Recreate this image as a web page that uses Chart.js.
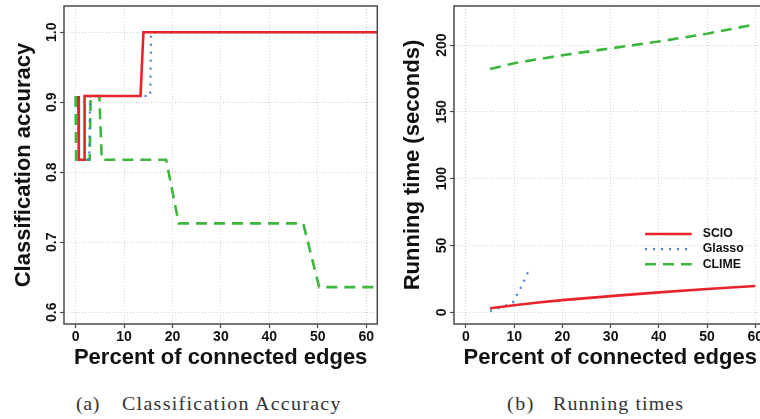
<!DOCTYPE html>
<html>
<head>
<meta charset="utf-8">
<script src="https://cdn.jsdelivr.net/npm/chart.js@4/dist/chart.umd.min.js"></script>
<style>
html,body{margin:0;padding:0;background:#fff;overflow:hidden;width:760px;height:419px;}
#wrap{position:relative;width:760px;height:419px;overflow:hidden;}
canvas{position:absolute;top:0;}
#c1{left:0;}
#c2{left:380px;}
.cap{position:absolute;white-space:nowrap;font-family:"Liberation Serif","Times New Roman",serif;font-size:18.5px;line-height:18.5px;color:#333;transform-origin:0 0;}
</style>
</head>
<body>
<div id="wrap">
<canvas id="c1" width="380" height="380"></canvas>
<canvas id="c2" width="400" height="380"></canvas>
<span class="cap" id="capA1">(a)</span>
<span class="cap" id="capA2">Classification Accuracy</span>
<span class="cap" id="capB1">(b)</span>
<span class="cap" id="capB2">Running times</span>
</div>
<script>
// ---------- data ----------
const seriesNames = ['SCIO', 'Glasso', 'CLIME'];

// (a) classification accuracy vs percent of connected edges
const accScioX   = [0.55, 0.65, 1.75, 1.85, 13.4, 14.0, 65];
const accScioY   = [0.909, 0.818, 0.818, 0.909, 0.909, 1.0, 1.0];
const accGlassoX = [0.6, 0.7, 2.8, 3.0, 15.4, 15.6, 65];
const accGlassoY = [0.909, 0.818, 0.818, 0.909, 0.909, 1.0, 1.0];
const accClimeX  = [0.0, 0.1, 2.9, 3.1, 4.9, 5.4, 18.7, 21.3, 47.0, 50.3, 65];
const accClimeY  = [0.909, 0.818, 0.818, 0.909, 0.909, 0.818, 0.818, 0.727, 0.727, 0.636, 0.636];

// (b) running times (seconds)
const timeScioX   = [5, 10, 15, 20, 30, 40, 50, 60];
const timeScioY   = [3.0, 5.3, 7.4, 9.1, 12.1, 14.9, 17.4, 19.7];
const timeGlassoX = [5, 7, 9.7, 11.2, 12.6, 13.4];
const timeGlassoY = [1.0, 3.3, 7.2, 17.2, 28.0, 34.0];
const timeClimeX  = [5, 10, 20, 30, 40, 50, 60];
const timeClimeY  = [182.0, 186.4, 192.4, 197.5, 202.6, 208.5, 215.4];

// ticks
const xTicks = [0, 10, 20, 30, 40, 50, 60];
const xTickLabels = ['0', '10', '20', '30', '40', '50', '60'];
const accTicks = [0.6, 0.7, 0.8, 0.9, 1.0];
const accTickLabels = ['0.6', '0.7', '0.8', '0.9', '1.0'];
const timeTicks = [0, 50, 100, 150, 200];
const timeTickLabels = ['0', '50', '100', '150', '200'];

// ---------- styling ----------
const SANS = '"Liberation Sans", Arial, Helvetica, sans-serif';
const RED = '#e8232b', BLUE = '#4a7fd6', GREEN = '#3db63d';
const styles = [
  {color: RED, width: 2.6, dash: []},
  {color: BLUE, width: 2.2, dash: [2, 6]},
  {color: GREEN, width: 2.6, dash: [11, 7]}
];

function pts(xs, ys) { return xs.map((x, i) => ({x: x, y: ys[i]})); }
function ds(i, xs, ys) {
  return {
    label: seriesNames[i], data: pts(xs, ys),
    borderColor: styles[i].color, borderWidth: styles[i].width, borderDash: styles[i].dash,
    pointRadius: 0, fill: false, tension: 0, clip: 0, borderCapStyle: 'butt'
  };
}

const framePlugin = {
  id: 'frameAndLabels',
  afterDraw(chart, args, opts) {
    const ctx = chart.ctx, a = chart.chartArea;
    ctx.save();
    ctx.strokeStyle = '#4a4a4a';
    ctx.lineWidth = 1.5;
    ctx.strokeRect(a.left, a.top, a.right - a.left, a.bottom - a.top);
    // rotated y tick labels
    const s = chart.scales.y;
    ctx.font = 'bold 14px ' + SANS;
    ctx.fillStyle = '#111';
    ctx.textAlign = 'center';
    ctx.textBaseline = 'middle';
    opts.values.forEach((v, i) => {
      const y = s.getPixelForValue(v);
      ctx.save();
      ctx.translate(a.left - 12.3, y);
      ctx.rotate(-Math.PI / 2);
      ctx.fillText(opts.labels[i], 0, 0);
      ctx.restore();
    });
    // legend
    if (opts.legend) {
      const lg = opts.legend;
      chart.data.datasets.forEach((d, i) => {
        const y = lg.y0 + i * lg.dy;
        ctx.save();
        ctx.strokeStyle = d.borderColor;
        ctx.lineWidth = d.borderWidth;
        ctx.setLineDash(d.borderDash || []);
        ctx.beginPath();
        ctx.moveTo(lg.x0, y);
        ctx.lineTo(lg.x1, y);
        ctx.stroke();
        ctx.restore();
        ctx.font = 'bold 12.3px ' + SANS;
        ctx.textAlign = 'left';
        ctx.fillStyle = '#111';
        ctx.fillText(d.label, lg.tx, y);
      });
    }
    ctx.restore();
  }
};

function makeChart(id, datasets, cfg) {
  return new Chart(document.getElementById(id), {
    type: 'line',
    data: {datasets: datasets},
    options: {
      responsive: false, animation: false, devicePixelRatio: 1,
      events: [],
      layout: {padding: {left: 0, right: cfg.rightPad, top: 6, bottom: 0}},
      plugins: {
        legend: {display: false}, tooltip: {enabled: false},
        frameAndLabels: {values: cfg.yTicks, labels: cfg.yTickLabels, legend: cfg.legend}
      },
      scales: {
        x: {
          type: 'linear', min: cfg.xMin, max: cfg.xMax,
          afterBuildTicks: s => { s.ticks = xTicks.map(v => ({value: v})); },
          afterFit: s => { s.height = 56; },
          ticks: {
            color: '#111', font: {family: SANS, size: 14, weight: 'bold'}, padding: 1,
            maxRotation: 0, minRotation: 0, autoSkip: false,
            callback: (v, i) => xTickLabels[i]
          },
          grid: {color: '#cfcfcf', lineWidth: 1, tickColor: '#4a4a4a', tickLength: 4, tickWidth: 1.2, tickBorderDash: []},
          border: {display: false, dash: [1, 2]},
          title: {display: true, text: 'Percent of connected edges', color: '#111',
                  font: {family: SANS, size: 22, weight: 'bold'}, padding: {top: 0, bottom: 8.4}}
        },
        y: {
          type: 'linear', min: cfg.yMin, max: cfg.yMax,
          afterBuildTicks: s => { s.ticks = cfg.yTicks.map(v => ({value: v})); },
          afterFit: s => { s.width = cfg.yWidth; },
          ticks: {display: false},
          grid: {color: '#cfcfcf', lineWidth: 1, tickColor: '#4a4a4a', tickLength: 4, tickWidth: 1.2, tickBorderDash: []},
          border: {display: false, dash: [1, 2]},
          title: {display: true, text: cfg.yTitle, color: '#111',
                  font: {family: SANS, size: 22, weight: 'bold'}, padding: {top: cfg.yTitlePad, bottom: 0}}
        }
      }
    },
    plugins: [framePlugin]
  });
}

makeChart('c1', [
  ds(0, accScioX, accScioY),
  ds(1, accGlassoX, accGlassoY),
  ds(2, accClimeX, accClimeY)
], {
  xMin: -2.4, xMax: 62.3, yMin: 0.5833, yMax: 1.0376,
  yTicks: accTicks, yTickLabels: accTickLabels,
  yTitle: 'Classification accuracy', yWidth: 64, yTitlePad: 10.8, rightPad: 2.7
});

makeChart('c2', [
  ds(0, timeScioX, timeScioY),
  ds(1, timeGlassoX, timeGlassoY),
  ds(2, timeClimeX, timeClimeY)
], {
  xMin: -2.48, xMax: 62.3, yMin: -8.75, yMax: 229.2,
  yTicks: timeTicks, yTickLabels: timeTickLabels,
  yTitle: 'Running time (seconds)', yWidth: 74, yTitlePad: 20, rightPad: 13.6,
  legend: {x0: 265, x1: 311.7, tx: 322.7, y0: 234, dy: 15.1}
});

// captions: mild horizontal stretch plus letter spacing to fit the measured extent
function placeCap(id, left, right, baseline) {
  const el = document.getElementById(id);
  const sx = 1.08;
  el.style.left = left + 'px';
  el.style.top = (baseline - 15.5) + 'px';
  const n = el.textContent.length;
  const w0 = el.getBoundingClientRect().width;
  const target = (right - left) / sx;
  const ls = n > 1 ? (target - w0) / (n - 1) : 0;
  el.style.letterSpacing = ls + 'px';
  const w1 = el.getBoundingClientRect().width - ls;
  el.style.transform = 'scaleX(' + ((right - left) / w1) + ')';
}
placeCap('capA1', 76, 99.5, 410);
placeCap('capA2', 121.5, 340, 410);
placeCap('capB1', 507, 533.5, 410);
placeCap('capB2', 553, 683, 410);
</script>
</body>
</html>
